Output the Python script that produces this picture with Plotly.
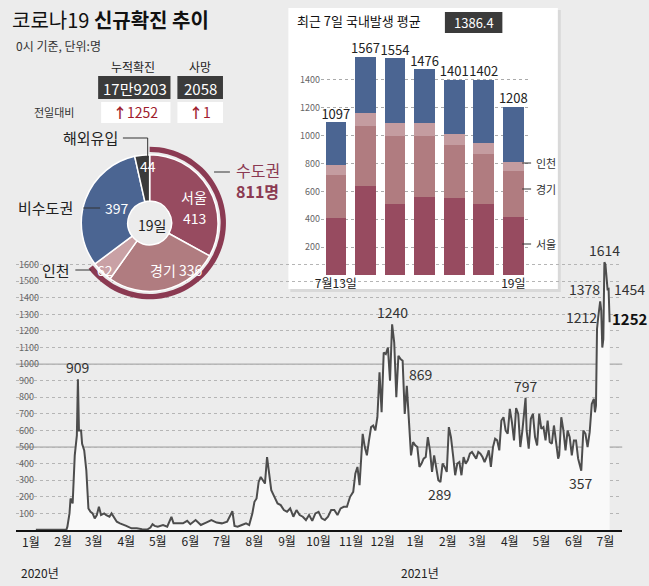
import plotly.graph_objects as go

W, H = 649, 586
def X(px): return px / W
def Y(py): return 1 - py / H

# ---- main daily series ----
dates = ["2020-01-20","2020-02-01","2020-02-18","2020-02-19","2020-02-21","2020-02-22","2020-02-24","2020-02-26","2020-02-28","2020-02-29",
"2020-03-01","2020-03-03","2020-03-04","2020-03-06","2020-03-08","2020-03-10","2020-03-12","2020-03-14","2020-03-16","2020-03-18",
"2020-03-20","2020-03-22","2020-03-25","2020-03-27","2020-03-30","2020-04-01","2020-04-03","2020-04-06","2020-04-09","2020-04-12",
"2020-04-15","2020-04-20","2020-04-25","2020-04-30","2020-05-05","2020-05-08","2020-05-10","2020-05-12","2020-05-15","2020-05-20",
"2020-05-24","2020-05-28","2020-05-30","2020-06-03","2020-06-08","2020-06-12","2020-06-15","2020-06-20","2020-06-25","2020-06-30",
"2020-07-05","2020-07-10","2020-07-15","2020-07-20","2020-07-25","2020-07-27","2020-07-30","2020-08-03","2020-08-07","2020-08-10",
"2020-08-13","2020-08-15","2020-08-17","2020-08-19","2020-08-21","2020-08-23","2020-08-25","2020-08-27","2020-08-29","2020-08-31",
"2020-09-03","2020-09-06","2020-09-09","2020-09-12","2020-09-15","2020-09-18","2020-09-21","2020-09-24","2020-09-27","2020-09-30",
"2020-10-03","2020-10-06","2020-10-09","2020-10-12","2020-10-15","2020-10-18","2020-10-21","2020-10-24","2020-10-27","2020-10-30",
"2020-11-02","2020-11-05","2020-11-08","2020-11-11","2020-11-14","2020-11-17","2020-11-19","2020-11-21","2020-11-23","2020-11-26",
"2020-11-28","2020-11-30","2020-12-02","2020-12-04","2020-12-06","2020-12-08","2020-12-10","2020-12-12","2020-12-14","2020-12-16",
"2020-12-18","2020-12-20","2020-12-22","2020-12-24","2020-12-26","2020-12-28","2020-12-30","2021-01-01","2021-01-03","2021-01-05",
"2021-01-07","2021-01-09","2021-01-11","2021-01-13","2021-01-15","2021-01-17","2021-01-19","2021-01-21","2021-01-23","2021-01-25",
"2021-01-27","2021-01-29","2021-01-31","2021-02-02","2021-02-04","2021-02-06","2021-02-08","2021-02-10","2021-02-12","2021-02-14",
"2021-02-16","2021-02-18","2021-02-20","2021-02-22","2021-02-24","2021-02-26","2021-02-28","2021-03-02","2021-03-04","2021-03-06",
"2021-03-08","2021-03-10","2021-03-12","2021-03-14","2021-03-16","2021-03-18","2021-03-20","2021-03-22","2021-03-24","2021-03-26",
"2021-03-28","2021-03-30","2021-04-01","2021-04-03","2021-04-05","2021-04-07","2021-04-09","2021-04-11","2021-04-13","2021-04-15",
"2021-04-17","2021-04-19","2021-04-21","2021-04-23","2021-04-25","2021-04-27","2021-04-30","2021-05-01","2021-05-03","2021-05-05",
"2021-05-07","2021-05-09","2021-05-11","2021-05-13","2021-05-15","2021-05-17","2021-05-19","2021-05-21","2021-05-23","2021-05-25",
"2021-05-27","2021-05-29","2021-05-31","2021-06-01","2021-06-03","2021-06-05","2021-06-07","2021-06-09","2021-06-11","2021-06-13",
"2021-06-15","2021-06-17","2021-06-19","2021-06-22","2021-06-24","2021-06-26","2021-06-28","2021-06-30","2021-07-02","2021-07-04",
"2021-07-05","2021-07-06","2021-07-07","2021-07-08","2021-07-09","2021-07-10","2021-07-11","2021-07-12","2021-07-13","2021-07-14",
"2021-07-15","2021-07-16","2021-07-17","2021-07-18","2021-07-19"]
cases = [1,1,1,20,100,190,160,450,570,909,
600,600,520,480,360,130,110,100,70,90,
140,90,100,90,80,100,80,50,40,30,
25,10,10,5,3,15,35,25,20,30,
20,79,40,40,40,55,35,60,30,45,
60,45,40,50,113,25,20,30,40,30,
100,170,190,290,320,300,280,440,320,240,
200,160,150,120,110,130,80,120,90,80,
60,90,55,100,110,70,60,80,120,120,
90,130,140,140,200,230,340,380,270,580,
500,450,540,620,630,600,680,950,710,1070,
1060,1100,900,1240,1130,800,1050,1030,1020,700,
869,640,450,530,510,500,380,400,430,440,
560,480,350,450,370,300,289,400,380,350,
620,560,450,330,400,410,330,440,400,420,
460,470,450,430,470,460,440,410,440,480,
380,500,550,540,480,660,680,600,580,730,
650,540,735,700,500,600,797,600,490,670,
700,560,510,700,610,620,540,660,530,520,
630,530,430,450,680,600,480,600,560,450,
540,540,430,357,600,580,500,590,760,790,
710,750,1212,1275,1316,1378,1324,1100,1150,1614,
1600,1536,1452,1454,1252]

month_ticks = ["2020-01-15","2020-02-15","2020-03-15","2020-04-15","2020-05-15","2020-06-15","2020-07-15","2020-08-15",
"2020-09-15","2020-10-15","2020-11-15","2020-12-15","2021-01-15","2021-02-15","2021-03-15","2021-04-15","2021-05-15",
"2021-06-15","2021-07-15"]
month_labels = ["1월","2월","3월","4월","5월","6월","7월","8월","9월","10월","11월","12월","1월","2월","3월","4월","5월","6월","7월"]

peaks = [("2020-02-29",909),("2020-12-24",1240),("2021-01-07",869),("2021-02-08",289),
         ("2021-04-30",797),("2021-06-22",357),("2021-07-07",1212),("2021-07-10",1378),("2021-07-14",1614)]

# ---- pie ----
pie_labels = ["서울","경기","인천","비수도권","해외유입"]
pie_values = [413,336,62,397,44]
pie_colors = ["#974b60","#b07c80","#c9a1a5","#4b6592","#3a3a3a"]

# ---- 7-day bars ----
bar_days = ["13","14","15","16","17","18","19"]
bar_ticktext = ["7월13일","","","","","","19일"]
seoul = [410,640,510,560,550,510,413]
gyeonggi = [310,430,490,440,380,360,336]
incheon = [70,90,90,90,80,80,62]
totals = [1097,1567,1554,1476,1401,1402,1208]
others = [t - s - g - i for t, s, g, i in zip(totals, seoul, gyeonggi, incheon)]

FONT = "Noto Sans CJK KR"
fig = go.Figure()

fig.add_trace(go.Scatter(x=dates, y=cases, mode="lines", line=dict(color="#4d4d4d", width=2),
                         fill="tozeroy", fillcolor="#f9f9f9", hoverinfo="skip", showlegend=False,
                         xaxis="x", yaxis="y"))

for c, vals in [("#974b60", seoul), ("#b07c80", gyeonggi), ("#c49ca0", incheon), ("#4b6592", others)]:
    fig.add_trace(go.Bar(x=bar_days, y=vals, marker=dict(color=c, line=dict(width=0)),
                         xaxis="x2", yaxis="y2", showlegend=False, hoverinfo="skip"))
fig.add_trace(go.Scatter(x=bar_days, y=totals, mode="text", text=[str(t) for t in totals],
                         textposition="top center", textfont=dict(family=FONT, size=13, color="#222"),
                         xaxis="x2", yaxis="y2", showlegend=False, hoverinfo="skip", cliponaxis=False))

fig.add_trace(go.Pie(values=[811, 1252 - 811], marker=dict(colors=["#8b3a52", "rgba(0,0,0,0)"]),
                     hole=0.93, sort=False, direction="clockwise", rotation=0, textinfo="none",
                     hoverinfo="skip", showlegend=False,
                     domain=dict(x=[X(145-77), X(145+77)], y=[Y(223+77), Y(223-77)])))
fig.add_trace(go.Pie(values=pie_values, labels=pie_labels, marker=dict(colors=pie_colors, line=dict(color="white", width=1.5)),
                     hole=0.32, sort=False, direction="clockwise", rotation=0, textinfo="none",
                     hoverinfo="skip", showlegend=False,
                     domain=dict(x=[X(145-69), X(145+69)], y=[Y(223+69), Y(223-69)])))

shapes = []
shapes.append(dict(type="rect", xref="paper", yref="paper", x0=X(287), x1=X(560), y0=Y(292), y1=Y(10),
                   fillcolor="rgba(0,0,0,0.08)", line=dict(width=0), layer="below"))
shapes.append(dict(type="rect", xref="paper", yref="paper", x0=X(285), x1=X(557), y0=Y(289), y1=Y(8),
                   fillcolor="white", line=dict(width=0), layer="below"))
for v in [500, 1000]:
    shapes.append(dict(type="line", xref="paper", yref="y", x0=X(10), x1=X(622), y0=v, y1=v,
                       line=dict(color="#9a9a9a", width=1), layer="below"))
shapes.append(dict(type="rect", xref="paper", yref="paper", x0=X(93), x1=X(166), y0=Y(99), y1=Y(76), fillcolor="#3b3b3b", line=dict(width=0)))
shapes.append(dict(type="rect", xref="paper", yref="paper", x0=X(173), x1=X(219), y0=Y(99), y1=Y(76), fillcolor="#3b3b3b", line=dict(width=0)))
shapes.append(dict(type="rect", xref="paper", yref="paper", x0=X(96), x1=X(166), y0=Y(123), y1=Y(102), fillcolor="white", line=dict(width=0)))
shapes.append(dict(type="rect", xref="paper", yref="paper", x0=X(173), x1=X(219), y0=Y(123), y1=Y(102), fillcolor="white", line=dict(width=0)))
shapes.append(dict(type="rect", xref="paper", yref="paper", x0=X(443), x1=X(501), y0=Y(33), y1=Y(12), fillcolor="#3b3b3b", line=dict(width=0)))
for (x0, y0, x1, y1) in [(118,138,143,138),(143,138,143,158),(78,208,95,208),(70,270,86,270),(210,172,226,172)]:
    shapes.append(dict(type="line", xref="paper", yref="paper", x0=X(x0), x1=X(x1), y0=Y(y0), y1=Y(y1),
                       line=dict(color="#333", width=1)))
for py in [163, 189, 244]:
    shapes.append(dict(type="line", xref="paper", yref="paper", x0=X(521), x1=X(530), y0=Y(py), y1=Y(py),
                       line=dict(color="#333", width=1)))

ann = []
def T(px, py, text, size=12, color="#222", xanchor="center", family=FONT):
    ann.append(dict(xref="paper", yref="paper", x=X(px), y=Y(py), text=text, showarrow=False,
                    font=dict(family=family, size=size, color=color), xanchor=xanchor, yanchor="middle"))

T(4, 20, "코로나19 <b>신규확진 추이</b>", 20, "#111", "left")
T(8, 45, "0시 기준, 단위:명", 12, "#333", "left")
T(128, 66, "누적확진", 12); T(196, 66, "사망", 12)
T(130, 88, "17만9203", 15, "white"); T(196, 88, "2058", 15, "white")
T(48, 112, "전일대비", 11, "#333")
T(131, 112, "<b>↑</b>1252", 14, "#a01c2c"); T(196, 112, "<b>↑</b>1", 14, "#a01c2c")
T(85, 137, "해외유입", 15, "#222")
T(143, 166, "44", 14, "white")
T(190, 197, "서울", 14, "white"); T(190, 218, "413", 14, "white")
T(147, 225, "19일", 14, "#222")
T(40, 208, "비수도권", 15, "#222"); T(112, 208, "397", 14, "white")
T(50, 270, "인천", 15, "#222"); T(100, 270, "62", 14, "white")
T(172, 270, "경기 336", 14, "white")
T(254, 170, "수도권", 16, "#8b3a52"); T(254, 191, "<b>811명</b>", 16, "#8b3a52")
T(292, 21, "최근 7일 국내발생 평균", 13, "#111", "left")
T(472, 22, "1386.4", 13, "white")
T(533, 163, "인천", 11, "#333", "left"); T(533, 189, "경기", 11, "#333", "left"); T(533, 244, "서울", 11, "#333", "left")
T(34, 572, "2020년", 12, "#222"); T(418, 572, "2021년", 12, "#222")

ann.append(dict(x=month_ticks[0], y=0, xref="x", yref="paper", yanchor="top", yshift=-20 + (586 - 530) * 0 , text=month_labels[0],
                showarrow=False, font=dict(family=FONT, size=12, color="#222")))
ann[-1]["y"] = Y(541)
ann[-1]["yanchor"] = "middle"
ann[-1]["yshift"] = 0

for d, v in peaks:
    yshift = -12 if v in (289, 357) else 12
    xshift = -16 if v in (1212, 1378) else (14 if v == 869 else 0)
    ann.append(dict(x=d, y=v, xref="x", yref="y", text=str(v), showarrow=False, yshift=yshift, xshift=xshift,
                    font=dict(family=FONT, size=14, color="#333")))
ann.append(dict(x="2021-07-17", y=1454, xref="x", yref="y", text="1454", showarrow=False, xanchor="left", xshift=4,
                font=dict(family=FONT, size=14, color="#333")))
ann.append(dict(x="2021-07-19", y=1252, xref="x", yref="y", text="<b>1252</b>", showarrow=False, xanchor="left", xshift=0, yshift=4,
                font=dict(family=FONT, size=15, color="#111")))

fig.update_layout(
    width=W, height=H, margin=dict(l=0, r=0, t=0, b=0),
    paper_bgcolor="#ececec", plot_bgcolor="rgba(0,0,0,0)", barmode="stack", bargap=0.3,
    shapes=shapes, annotations=ann,
    xaxis=dict(domain=[X(10), X(622)], type="date", range=["2020-01-01", "2021-07-31"],
               tickvals=month_ticks, ticktext=month_labels, showgrid=False, zeroline=False,
               showline=True, linecolor="#111", linewidth=2, ticks="", tickfont=dict(family=FONT, size=12, color="#222")),
    yaxis=dict(domain=[Y(530), Y(248)], range=[0, 1700], tickvals=list(range(100, 1700, 100)),
               ticklabelposition="inside", showgrid=True, gridcolor="#b5b5b5", griddash="dot", gridwidth=1,
               zeroline=False, tickfont=dict(family=FONT, size=9, color="#666")),
    xaxis2=dict(domain=[X(318), X(527)], anchor="y2", tickvals=bar_days, ticktext=bar_ticktext,
                showgrid=False, ticks="", tickfont=dict(family=FONT, size=12, color="#222"), showline=False),
    yaxis2=dict(domain=[Y(275), Y(52)], anchor="x2", range=[0, 1600], tickvals=[200, 400, 600, 800, 1000, 1200, 1400],
                showgrid=True, gridcolor="#aaa", griddash="dot", zeroline=False,
                tickfont=dict(family=FONT, size=9, color="#666")),
)
fig.write_html("out.html", config={"displayModeBar": False},
               post_script="document.body.style.margin='0';document.body.style.overflow='hidden';")
